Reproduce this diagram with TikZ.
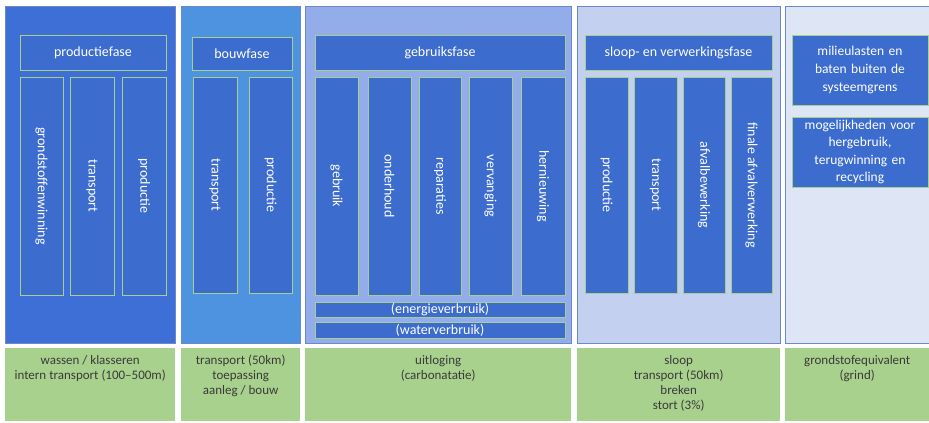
\documentclass[tikz,border=0pt]{standalone}
\usepackage{fontspec}
\setmainfont{Carlito}
\definecolor{colA}{HTML}{3D6FD6}
\definecolor{colB}{HTML}{4E93E0}
\definecolor{colC}{HTML}{93ACEA}
\definecolor{colD}{HTML}{C3D0EF}
\definecolor{colE}{HTML}{DEE5F5}
\definecolor{inner}{HTML}{3C6CCE}
\definecolor{innerline}{HTML}{A8D08D}
\definecolor{panelline}{HTML}{6C88C8}
\definecolor{greenbox}{HTML}{A9D18E}
\definecolor{greentext}{HTML}{3A3A3A}
\tikzset{
  panel/.style={draw=panelline, line width=0.6pt},
  ibox/.style={draw=innerline, fill=inner, line width=0.8pt, text=white, font=\fontsize{14}{16}\selectfont},
  gbox/.style={fill=greenbox, text=greentext, font=\fontsize{13}{15}\selectfont},
  gtext/.style={text=greentext, font=\fontsize{13}{15}\selectfont, align=center, anchor=north, inner sep=0pt, yshift=-7pt},
  vtext/.style={rotate=-90, text=white, font=\fontsize{14}{16}\selectfont},
}
\begin{document}
\begin{tikzpicture}[x=1pt,y=-1pt]
\useasboundingbox (0,0) rectangle (929,423);
% panels
\draw[panel, fill=colA] (5,6) rectangle (175,343);
\draw[panel, fill=colB] (181,6) rectangle (300,343);
\draw[panel, fill=colC] (305,6) rectangle (571,343);
\draw[panel, fill=colD] (577,6) rectangle (780,343);
\draw[panel, fill=colE] (785,6) rectangle (929,343);
% column 1
\node[ibox, minimum width=146, minimum height=35] (h1) at (93,52.5) {productiefase};
\node[ibox, minimum width=43, minimum height=218] (c11) at (41.5,186) {};
\node[vtext] at (c11) {grondstoffenwinning};
\node[ibox, minimum width=44, minimum height=218] (c12) at (92,186) {};
\node[vtext] at (c12) {transport};
\node[ibox, minimum width=44, minimum height=218] (c13) at (144,186) {};
\node[vtext] at (c13) {productie};
% column 2
\node[ibox, minimum width=100, minimum height=33] (h2) at (242,53.5) {bouwfase};
\node[ibox, minimum width=44, minimum height=216] (c21) at (215,185) {};
\node[vtext] at (c21) {transport};
\node[ibox, minimum width=43, minimum height=216] (c22) at (270.5,185) {};
\node[vtext] at (c22) {productie};
% column 3
\node[ibox, minimum width=250, minimum height=35] (h3) at (440,52.5) {gebruiksfase};
\node[ibox, minimum width=43, minimum height=218] (c31) at (336.5,186) {};
\node[vtext] at (c31) {gebruik};
\node[ibox, minimum width=43, minimum height=218] (c32) at (389.5,186) {};
\node[vtext] at (c32) {onderhoud};
\node[ibox, minimum width=42, minimum height=218] (c33) at (440,186) {};
\node[vtext] at (c33) {reparaties};
\node[ibox, minimum width=43, minimum height=218] (c34) at (490.5,186) {};
\node[vtext] at (c34) {vervanging};
\node[ibox, minimum width=44, minimum height=218] (c35) at (543,186) {};
\node[vtext] at (c35) {hernieuwing};
\node[ibox, minimum width=250, minimum height=15, inner sep=0pt] (e3) at (440,309.5) {(energieverbruik)};
\node[ibox, minimum width=250, minimum height=16, inner sep=0pt] (w3) at (440,330) {(waterverbruik)};
% column 4
\node[ibox, minimum width=187, minimum height=35] (h4) at (678.5,52.5) {sloop- en verwerkingsfase};
\node[ibox, minimum width=43, minimum height=216] (c41) at (606.5,185) {};
\node[vtext] at (c41) {productie};
\node[ibox, minimum width=43, minimum height=216] (c42) at (655.5,185) {};
\node[vtext] at (c42) {transport};
\node[ibox, minimum width=42, minimum height=216] (c43) at (704,185) {};
\node[vtext] at (c43) {afvalbewerking};
\node[ibox, minimum width=41, minimum height=216] (c44) at (751.5,185) {};
\node[vtext] at (c44) {finale afvalverwerking};
% column 5
\node[ibox, minimum width=136, minimum height=70, text width=132, align=center, inner sep=1pt, font=\fontsize{13.5}{18}\selectfont] (m1) at (860,70) {milieulasten en\\baten buiten de\\systeemgrens};
\node[ibox, minimum width=136, minimum height=70, text width=134, align=center, inner sep=0pt, font=\fontsize{13.5}{17.5}\selectfont] (m2) at (860,152) {mogelijkheden voor\\hergebruik,\\terugwinning en\\recycling};
% green boxes
\node[gbox, minimum width=170, minimum height=73, anchor=north west] (g1) at (5,348) {};
\node[gtext] at (g1.north) {wassen / klasseren\\intern transport (100--500m)};
\node[gbox, minimum width=119, minimum height=73, anchor=north west] (g2) at (181,348) {};
\node[gtext] at (g2.north) {transport (50km)\\toepassing\\aanleg / bouw};
\node[gbox, minimum width=266, minimum height=73, anchor=north west] (g3) at (305,348) {};
\node[gtext] at (g3.north) {uitloging\\(carbonatatie)};
\node[gbox, minimum width=203, minimum height=73, anchor=north west] (g4) at (577,348) {};
\node[gtext] at (g4.north) {sloop\\transport (50km)\\breken\\stort (3\%)};
\node[gbox, minimum width=144, minimum height=73, anchor=north west] (g5) at (785,348) {};
\node[gtext] at (g5.north) {grondstofequivalent\\(grind)};
\end{tikzpicture}
\end{document}
